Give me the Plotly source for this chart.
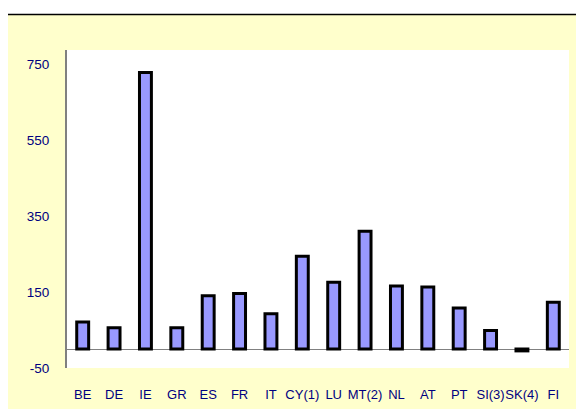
import plotly.graph_objects as go

# Country codes and values
countries = ["BE", "DE", "IE", "GR", "ES", "FR", "IT", "CY(1)", "LU", "MT(2)",
             "NL", "AT", "PT", "SI(3)", "SK(4)", "FI"]
values = [71, 56, 728, 56, 140, 146, 93, 244, 176, 310, 166, 163, 108, 49, -5, 123]

y_ticks = [750, 550, 350, 150, -50]
y_range = [-50, 787]

W, H = 576, 409
ML, MR, MT, MB = 67, 7, 50, 41
pw = W - ML - MR
ph = H - MT - MB


def px_x(x):
    return (x - ML) / pw


def px_y(y):
    return (H - MB - y) / ph


FONT = "Liberation Sans, Arial, sans-serif"
TXT = "#000080"

fig = go.Figure(
    go.Bar(
        x=countries,
        y=values,
        marker=dict(color="#9999FF", line=dict(color="black", width=3)),
        hoverinfo="x+y",
    )
)

fig.update_layout(
    width=W,
    height=H,
    margin=dict(l=ML, r=MR, t=MT, b=MB),
    paper_bgcolor="white",
    plot_bgcolor="white",
    bargap=0.62,
    showlegend=False,
    font=dict(family=FONT, size=13, color=TXT),
    shapes=[
        # yellow panel behind the chart
        dict(type="rect", xref="paper", yref="paper",
             x0=px_x(8), x1=px_x(W + 2), y0=px_y(H + 2), y1=px_y(14.5),
             fillcolor="#FFFFCC", line=dict(width=0), layer="below"),
        # white plotting area
        dict(type="rect", xref="paper", yref="paper",
             x0=0, x1=1, y0=0, y1=1,
             fillcolor="white", line=dict(width=0), layer="below"),
        # black rule at the top
        dict(type="line", xref="paper", yref="paper",
             x0=px_x(8), x1=px_x(W + 2), y0=px_y(14.5), y1=px_y(14.5),
             line=dict(color="black", width=1.5)),
    ],
)

fig.update_xaxes(
    showgrid=False,
    showline=False,
    ticks="",
    tickangle=0,
    automargin=False,
    tickfont=dict(family=FONT, size=13, color=TXT),
    ticklabelstandoff=17,
)

fig.update_yaxes(
    range=y_range,
    tickvals=y_ticks,
    ticktext=[str(v) for v in y_ticks],
    automargin=False,
    showgrid=False,
    showline=True,
    linecolor="#808080",
    linewidth=2,
    zeroline=True,
    zerolinecolor="#808080",
    zerolinewidth=1,
    ticks="",
    tickfont=dict(family=FONT, size=13.5, color=TXT),
    ticklabelstandoff=13,
)

fig.write_html("out.html")
